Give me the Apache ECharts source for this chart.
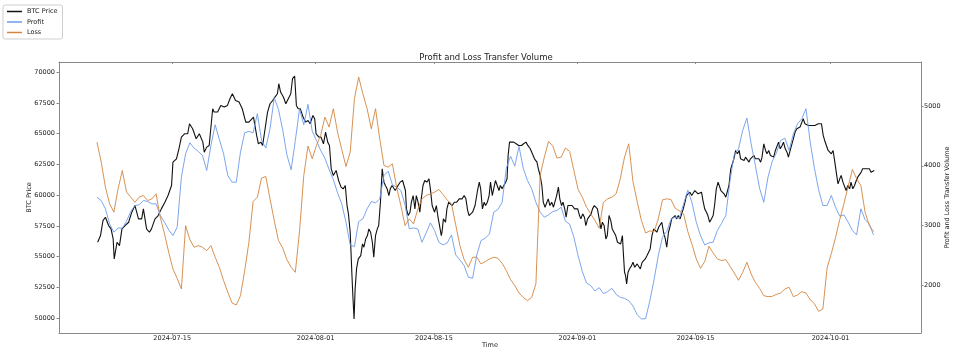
<!DOCTYPE html>
<html><head><meta charset="utf-8">
<script src="https://cdn.jsdelivr.net/npm/echarts@6/dist/echarts.min.js"></script>
<style>html,body{margin:0;padding:0;background:#fff}#c{width:960px;height:358px}</style>
</head><body><div id="c"></div>
<script>
// ---- data ----
const startTime = '2024-07-06T02:00:00Z';   // hour 0 of the series
const flowStepHours = 12;                    // Profit / Loss sampled every 12 h

// BTC price: hours after startTime, and price read at those hours
const btcHours = [
2,10,17,24,33,40,46,49,57,64,71,80,90,99,108,118,127,132,141,149,155,165,174,183,193,202,212,216,226,233,240,249,258,263,272,282,291,301,305,312,319,329,333,343,352,362,371,378,385,394,404,413,423,432,
436,445,454,459,466,471,478,485,492,500,506,513,517,522,530,537,544,551,556,562,565,567,572,578,586,593,600,606,614,619,623,631,637,644,650,656,661,666,672,680,687,694,700,706,711,715,720,725,728,731,734,738,743,750,755,759,764,769,773,778,783,787,792,797,801,806,811,816,820,825,830,834,839,848,856,862,869,877,
880,885,890,894,899,904,908,913,918,922,927,932,938,944,948,953,960,965,969,974,979,981,985,991,995,1000,1004,1010,1016,1023,1030,1038,1044,1049,1054,1058,1063,1068,1075,1082,1087,1091,1096,1101,1105,1110,1115,1119,1124,1129,1133,1138,1143,1147,1152,1157,1162,1166,1169,1173,1178,1185,1192,1199,1207,1213,1220,1225,1232,1238,1244,1251,1255,1260,1265,1269,1274,1279,1283,1288,1293,1298,1302,1307,1312,1316,1321,
1325,1330,1334,1339,1344,1351,1358,1362,1367,1372,1376,1381,1386,1390,1395,1400,1405,1409,1414,1419,1423,1428,1433,1437,1442,1447,1451,1456,1461,1465,1470,1475,1480,1484,1489,1494,1496,1500,1503,1506,1510,1514,1520,1524,1529,1536,1540,1545,1550,1555,1559,1564,1569,1573,1578,1583,1587,1592,1597,1601,1606,1611,1616,1620,1625,1630,1634,1639,1644,1648,1653,1658,1662,1667,1672,1676,1681,1686,1691,1695,1700,1705,1709,1714,1719,1723,1728,1733,1737,1742,1747,1752,1756,1761,1766,
1769,1774,1779,1783,1788,1793,1797,1802,1807,1811,1816,1821,1826,1830,1835,1840,1844,1849,1854,1858,1863,1868,1872,1877,1882,1887,1891,1896,1901,1905,1910,1915,1919,1924,1929,1933,1938,1943,1948,1952,1957,1962,1966,1971,1976,1980,1985,1990,1994,1999,2004,2008,2013,2018,2023,2027,2032,2037,2041,2046,2051,2055,2060,2065,2069,2074,2079,2084,2088,2093,2098,2102,2107,2112,2116,2121,2126,2130,2135,2140,2144,2149,2154,2159,2163,2168,2173,2177,2182,2187,2191,2196,2201,2205,2210
];
const btcPrice = [
56167,56710,57933,58205,57526,57254,56439,54809,56167,55896,57254,57526,57797,58613,59156,58069,58069,58884,57254,56982,57254,58069,58341,58884,59428,59971,60786,62688,62960,63775,64726,64997,64997,65812,65405,64590,64997,64318,63503,63911,64047,67035,66764,66764,67307,67171,67307,67850,68258,67714,67579,67035,65948,65948,
65948,66356,64862,64182,64318,64047,65405,66764,67443,67714,67986,68258,69073,68394,67986,67443,67850,68258,69481,69698,69616,67307,67035,67035,66356,65948,66084,65812,66492,66220,64997,64726,64726,64182,65133,64318,64047,62145,61601,62009,61194,60650,60514,60786,59156,58477,56982,53450,51548,49918,52364,53993,54809,55081,56031,55760,56439,56711,57254,56982,56167,54944,56711,57254,57526,59428,62145,61058,60786,60514,59971,60514,60786,60378,60786,61058,61194,60378,
58884,58341,58613,59428,59971,58884,59971,59428,58613,59699,60786,61194,61058,61330,60514,59156,58613,59156,58341,57526,56711,56982,58069,57797,58884,59428,59292,59156,59428,59428,59699,59699,59971,59699,58748,58341,58205,58613,59156,60378,61058,60514,58884,59428,59156,59428,59971,61058,59971,60650,61194,60786,60378,60786,60514,60786,61058,61330,63231,64318,64182,64318,64182,64047,64047,64182,64318,64047,63775,63367,62960,62688,62145,61601,60786,59428,59020,59156,59699,59156,59428,59020,59156,59971,60650,59699,59156,
59428,58884,58205,59156,59020,59156,58884,59020,58884,58341,58069,58477,58205,57526,58069,58205,58477,58884,59156,59292,58884,59020,57254,57797,57526,56439,56711,58341,57933,57254,56982,56711,56167,56303,56031,56711,55624,53722,53450,52771,53722,53993,54265,54537,54130,54401,54265,53993,54537,54401,54809,55081,54945,55624,56711,57254,57118,56982,57390,57526,57797,56982,56439,55760,56982,57526,58069,58069,58341,58069,58341,58069,58205,58884,59428,59971,60107,60242,59971,60107,60378,60242,60107,59971,60242,59563,58884,58613,58341,57797,58069,58341,59156,60514,61058,
61058,60378,60514,60107,59835,59971,60786,62145,62009,62960,63639,63367,63639,62960,63096,62824,63096,62960,62688,62960,63096,63231,62960,63096,62960,62688,63096,64182,63639,63367,63639,63231,63367,63096,63639,63775,64318,63775,64047,64318,63775,63503,63096,63639,63775,64590,65133,65405,65269,65541,65677,66220,65812,65948,65677,65812,65677,65812,65677,65731,65812,65677,65812,64862,64454,64318,63639,63775,63367,63639,62688,61873,60922,61330,61601,61058,61194,60378,60786,60514,61058,60514,60786,61194,61465,61465,61873,62145,62281,62145,62009,62145,61873,62009,62009
];

const profit = [
3474,3418,3279,3027,2888,2960,2955,3072,3234,3335,
3346,3418,3402,3363,3363,3167,3055,2927,2832,2971,
3810,4201,4385,4296,4240,4173,3921,4340,4687,4441,
4201,3837,3726,3726,4229,4553,4575,4553,4871,4424,
4296,4620,5139,4944,4603,4184,3932,4424,4955,4687,
5027,4580,4424,4256,4128,3938,3770,3547,3363,3055,
2675,2647,3066,3111,3279,3402,3379,3446,3837,3910,
3681,3642,3586,3346,2944,2960,2944,2720,2876,3044,
2916,2720,2675,2709,2843,2508,2424,2329,2133,2117,
2508,2748,2787,2860,3223,3268,3390,3960,4161,3994,
4324,3960,3754,3614,3390,3223,3139,3178,3234,3251,
3307,3072,3022,2804,2497,2228,2038,1994,1904,1960,
1860,1893,1949,1848,1798,1781,1742,1653,1508,1435,
1441,1742,2094,2497,2804,2899,3100,3145,3122,3363,
3592,3379,3055,2832,2675,2709,2720,2916,3038,3167,
3754,4184,4284,4592,4798,4368,4005,3625,3390,3810,
4072,4217,4424,4463,4256,4536,4703,4787,4955,4396,
3960,3597,3335,3335,3502,3307,3156,3178,3055,2916,
2843,3279,3100,3027,2843
];

const loss = [
4396,4061,3642,3362,3223,3614,3921,3558,3474,3390,
3474,3502,3418,3446,3530,3139,2860,2552,2273,2117,
1938,2999,2765,2636,2664,2636,2580,2664,2469,2301,
2078,1882,1703,1670,1826,2245,2720,3402,3474,3793,
3821,3446,3083,2748,2625,2429,2301,2217,2910,3837,
4329,4117,4340,4508,4815,4648,4955,4564,4273,3988,
4229,5122,5486,5206,4955,4620,4955,4452,4005,3977,
4033,3642,3335,2999,3111,3027,3268,3446,3502,3530,
3558,3603,3519,3424,3362,3011,2664,2429,2301,2469,
2469,2357,2396,2441,2469,2452,2368,2245,2094,1994,
1871,1798,1742,1798,2022,3837,4145,4407,4329,4128,
4145,4296,4240,3921,3603,3474,3307,3195,3083,2955,
3390,3446,3474,3530,3782,4145,4368,3737,3402,3083,
2876,2910,2899,3111,3430,3446,3435,3290,3245,3195,
2899,2681,2441,2284,2396,2653,2541,2441,2413,2430,
2318,2206,2083,2217,2385,2189,2050,1949,1826,1809,
1815,1848,1871,1938,1966,1809,1837,1893,1871,1759,
1692,1563,1603,2290,2530,2798,3100,3368,3659,3938,
3782,3670,3223,2999,2899
];

const xTickLabels = ['2024-07-15','2024-08-01','2024-08-15','2024-09-01','2024-09-15','2024-10-01'];
const leftTicks = [50000,52500,55000,57500,60000,62500,65000,67500,70000];
const rightTicks = [2000,3000,4000,5000];

// ---- build ----
const HOUR = 3600e3;
const t0 = Date.parse(startTime);
const btcData = btcPrice.map((v, i) => [t0 + btcHours[i] * HOUR, v]);
const flowPair = arr => arr.map((v, i) => [t0 + i * flowStepHours * HOUR, v]);
const xTickValues = xTickLabels.map(s => Date.parse(s + 'T00:00:00Z'));
const pad2 = n => (n < 10 ? '0' : '') + n;
const fmtDate = v => { const d = new Date(v); return d.getUTCFullYear() + '-' + pad2(d.getUTCMonth() + 1) + '-' + pad2(d.getUTCDate()); };

const FONT = 'DejaVu Sans';
const TXT = '#222';
const SPINE = '#8a8a8a';
const xMin = Date.parse('2024-07-01T14:00:00Z');
const xMax = Date.parse('2024-10-11T17:00:00Z');

const chart = echarts.init(document.getElementById('c'), null, { renderer: 'canvas' });
chart.setOption({
  animation: false,
  backgroundColor: '#fff',
  textStyle: { fontFamily: FONT },
  title: {
    text: 'Profit and Loss Transfer Volume',
    left: 481, top: 48, textAlign: 'center',
    textStyle: { fontFamily: FONT, fontSize: 8.5, fontWeight: 'normal', color: TXT }
  },
  legend: {
    orient: 'vertical', left: 3, top: 5,
    data: ['BTC Price', 'Profit', 'Loss'],
    icon: 'rect', itemWidth: 15, itemHeight: 1.5, itemGap: 3.5,
    padding: [3, 5, 3, 4],
    borderColor: '#cfcfcf', borderWidth: 1, borderRadius: 2,
    textStyle: { fontFamily: FONT, fontSize: 6.5, color: TXT, lineHeight: 7 }
  },
  grid: { left: 59, right: 39, top: 62, height: 271 },
  xAxis: [{
    type: 'value', min: xMin, max: xMax,
    name: 'Time', nameLocation: 'middle', nameGap: 9, nameMoveOverlap: false,
    nameTextStyle: { fontFamily: FONT, fontSize: 6.5, color: TXT },
    axisLine: { show: true, onZero: false, lineStyle: { color: SPINE, width: 1 } },
    axisTick: { show: true, length: 2.5, lineStyle: { color: SPINE }, customValues: xTickValues },
    axisLabel: { fontFamily: FONT, fontSize: 6.5, color: TXT, margin: 1.5, customValues: xTickValues, formatter: v => fmtDate(v) },
    splitLine: { show: false }
  }, {
    type: 'value', min: xMin, max: xMax, position: 'top',
    axisLine: { show: true, onZero: false, lineStyle: { color: SPINE, width: 1 } },
    axisTick: { show: true, inside: true, length: 2, lineStyle: { color: SPINE }, customValues: xTickValues },
    axisLabel: { show: false },
    splitLine: { show: false }
  }],
  yAxis: [{
    type: 'value', min: 48780, max: 70840, position: 'left',
    name: 'BTC Price', nameLocation: 'middle', nameRotate: 90, nameGap: 26, nameMoveOverlap: false,
    nameTextStyle: { fontFamily: FONT, fontSize: 6.5, color: TXT },
    axisLine: { show: true, lineStyle: { color: SPINE, width: 1 } },
    axisTick: { show: true, length: 2.5, lineStyle: { color: SPINE }, customValues: leftTicks },
    axisLabel: { fontFamily: FONT, fontSize: 6.5, color: TXT, margin: 4, customValues: leftTicks, formatter: v => String(v) },
    splitLine: { show: false }
  }, {
    type: 'value', min: 1201, max: 5737, position: 'right',
    name: 'Profit and Loss Transfer Volume', nameLocation: 'middle', nameRotate: 90, nameGap: 23, nameMoveOverlap: false,
    nameTextStyle: { fontFamily: FONT, fontSize: 6.5, color: TXT },
    axisLine: { show: true, lineStyle: { color: SPINE, width: 1 } },
    axisTick: { show: true, length: 2.5, lineStyle: { color: SPINE }, customValues: rightTicks },
    axisLabel: { fontFamily: FONT, fontSize: 6.5, color: TXT, margin: 3, customValues: rightTicks, formatter: v => String(v) },
    splitLine: { show: false }
  }],
  series: [{
    name: 'BTC Price', type: 'line', xAxisIndex: 0, yAxisIndex: 0,
    data: btcData, symbol: 'none', color: '#111',
    lineStyle: { width: 1.1, color: '#111' }
  }, {
    name: 'Profit', type: 'line', xAxisIndex: 0, yAxisIndex: 1,
    data: flowPair(profit), symbol: 'none', color: '#6D9BEB',
    lineStyle: { width: 0.9, color: '#6D9BEB' }
  }, {
    name: 'Loss', type: 'line', xAxisIndex: 0, yAxisIndex: 1,
    data: flowPair(loss), symbol: 'none', color: '#D4863F',
    lineStyle: { width: 0.9, color: '#D4863F' }
  }]
});
</script></body></html>
